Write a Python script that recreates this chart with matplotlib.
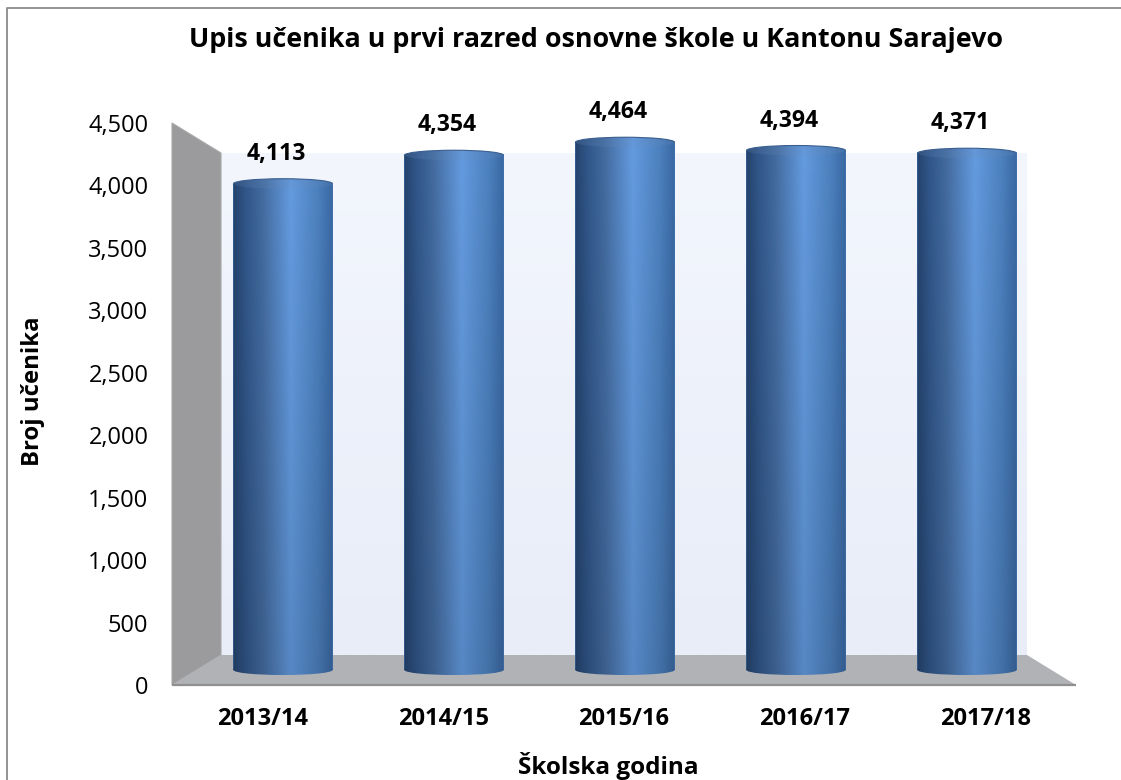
import numpy as np
import matplotlib
matplotlib.use("Agg")
import matplotlib.pyplot as plt
from matplotlib.colors import LinearSegmentedColormap
from matplotlib.lines import Line2D
from matplotlib.patches import Arc, Ellipse, Polygon, PathPatch
from matplotlib.path import Path
from matplotlib.ticker import MultipleLocator, FuncFormatter

categories = ["2013/14", "2014/15", "2015/16", "2016/17", "2017/18"]
values = [4113, 4354, 4464, 4394, 4371]
title = "Upis učenika u prvi razred osnovne škole u Kantonu Sarajevo"
xlabel = "Školska godina"
ylabel = "Broj učenika"

W, H = 1121, 780
plt.rcParams['font.family'] = ['Open Sans', 'DejaVu Sans']
fig = plt.figure(figsize=(W/100, H/100), dpi=100)

def rect(l, t, r, b):
    return [l/W, 1-b/H, (r-l)/W, (b-t)/H]

# Chart frame: only its top and left sides fall inside the picture
fig.add_artist(Line2D([6.5/W, 6.5/W, 1], [0, 1-7.5/H, 1-7.5/H], transform=fig.transFigure,
                      color='#8a8a8a', lw=1.3))

# Front plane: carries the axis scale and tick labels
ax = fig.add_axes(rect(172, 123, 1076, 685))
ax.set_xlim(-0.5, 4.5)
ax.set_ylim(0, 4500)
for s in ax.spines.values():
    s.set_visible(False)
ax.patch.set_visible(False)
ax.set_xticks(range(len(categories)))
ax.set_xticklabels(categories, fontsize=17, fontweight='bold')
ax.yaxis.set_major_locator(MultipleLocator(500))
ax.yaxis.set_major_formatter(FuncFormatter(lambda v, p: f"{int(v):,}"))
ax.tick_params(axis='y', length=0, labelsize=17, pad=17)
ax.tick_params(axis='x', length=0, pad=16)

# 3D box, in fractions of the front plane
dx, dy = 49/904, 30/562
wall_cmap = LinearSegmentedColormap.from_list('wall', ['#f3f6fd', '#e8edf8'])
ax.imshow(np.linspace(0, 1, 256).reshape(-1, 1), cmap=wall_cmap, aspect='auto',
          extent=[dx, 1-dx, dy, 1-dy], transform=ax.transAxes, zorder=0)
ax.set_xlim(-0.5, 4.5)
ax.set_ylim(0, 4500)
ax.add_patch(Polygon([(0, 1), (dx, 1-dy), (dx, dy), (0, 0)], transform=ax.transAxes,
                     fc='#9b9b9e', ec='#a8a8a8', lw=0.8, zorder=1, clip_on=False))
ax.add_patch(Polygon([(0, 0), (dx, dy), (1-dx, dy), (1, 0)], transform=ax.transAxes,
                     fc='#b1b2b6', ec='none', zorder=1, clip_on=False))
ax.plot([0, 1], [0, 0], transform=ax.transAxes, color='#8f8f92', lw=1.6, zorder=2,
        clip_on=False, solid_capstyle='butt')

# Mid plane of the box: the cylinders stand here (y scale runs a little below 0 for the base)
y_low = -10*4500/532
y_high = 4500 + 10*4500/532
bx = fig.add_axes(rect(197.5, 128, 1052.5, 680))
bx.axis('off')
bar_w = 0.58
cap_h = 85

stops = [(0.0, '#23416a'), (0.12, '#2f5384'), (0.3, '#42699c'), (0.58, '#6197da'),
         (0.85, '#4a7db9'), (1.0, '#38659e')]
bar_cmap = LinearSegmentedColormap.from_list('cyl', stops)
grad = bar_cmap(np.linspace(0, 1, 256))[None, :, :3]
shade = np.linspace(1.03, 0.9, 200)[:, None, None]
grad = np.clip(np.repeat(grad, 200, axis=0) * shade, 0, 1)

bars = bx.bar(range(len(values)), values, width=bar_w, color='#4a7db9', zorder=3)
for i, (b, v) in enumerate(zip(bars, values)):
    l = i - bar_w/2
    r = i + bar_w/2
    # side surface with rounded base and top
    base = Ellipse((i, 0), bar_w, cap_h)
    top = Ellipse((i, v), bar_w, cap_h)
    clip = Path.make_compound_path(
        Path([(l, 0), (r, 0), (r, v), (l, v), (l, 0)], closed=True),
        base.get_path().transformed(base.get_patch_transform()),
        top.get_path().transformed(top.get_patch_transform()))
    clip_patch = PathPatch(clip, transform=bx.transData, fc='none', ec='none')
    bx.add_patch(clip_patch)
    im = bx.imshow(grad, aspect='auto', extent=[l, r, -cap_h, v + cap_h], zorder=4,
                   interpolation='bilinear')
    im.set_clip_path(clip_patch)
    # top cap: soft fill with only the back rim outlined
    bx.add_patch(Ellipse((i, v), bar_w, cap_h, fc=(0.42, 0.55, 0.72, 0.2), ec='none', zorder=5))
    bx.add_patch(Arc((i, v), bar_w, cap_h, theta1=0, theta2=180, ec='#3a5f8f', lw=0.8, zorder=5))
    bx.annotate(f"{v:,}", (i, v), xytext=(-7, 30), textcoords='offset pixels',
                ha='center', va='center', fontsize=16.6, fontweight='bold', zorder=6,
                annotation_clip=False)
bx.set_xlim(-0.5, 4.5)
bx.set_ylim(y_low, y_high)
bx.patch.set_visible(False)

fig.text(596/W, 1-40/H, title, ha='center', va='center', fontsize=19.35, fontweight='bold')
fig.text(608/W, 1-766/H, xlabel, ha='center', va='center', fontsize=17.5, fontweight='bold')
fig.text(33/W, 1-391/H, ylabel, ha='center', va='center', rotation=90, fontsize=17.2, fontweight='bold')

fig.savefig('out.png', dpi=100)
